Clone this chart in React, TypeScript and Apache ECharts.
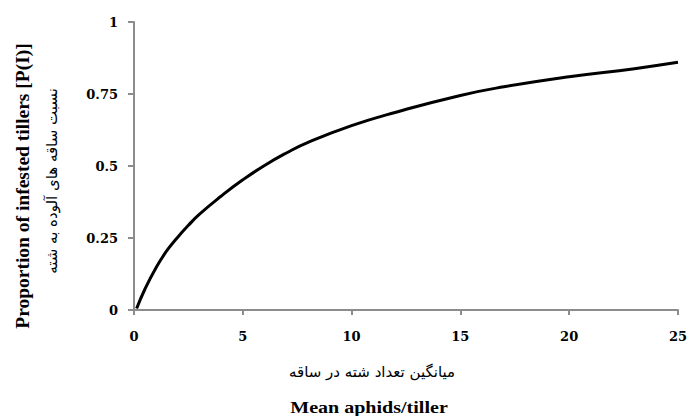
import React, { useEffect, useRef } from "react";
import * as echarts from "echarts";

const meanAphids = [0.12, 0.5, 1, 1.5, 2, 2.5, 3, 4, 5, 6, 7, 8, 10, 12, 15, 17, 20, 23, 25];
const proportionInfested = [0.005, 0.072, 0.145, 0.205, 0.252, 0.294, 0.332, 0.395, 0.452, 0.502, 0.545, 0.582, 0.64, 0.686, 0.745, 0.775, 0.81, 0.838, 0.86];
const xTicks = [0, 5, 10, 15, 20, 25];
const yTicks = [0, 0.25, 0.5, 0.75, 1];

const yTitleEn = "Proportion of infested tillers [P(I)]";
const yTitleFa = "نسبت ساقه های آلوده به شته";
const xTitleFa = "میانگین تعداد شته در ساقه";
const xTitleEn = "Mean aphids/tiller";

const serif = "'Liberation Serif', 'Times New Roman', serif";
const tickFont = "'DejaVu Serif', 'Liberation Serif', serif";
const faFont = "'DejaVu Sans', 'Liberation Serif', sans-serif";

export default function App() {
  const ref = useRef<HTMLDivElement>(null);
  useEffect(() => {
    if (!ref.current) return;
    const chart = echarts.init(ref.current, null, { renderer: "svg" });
    const axisColor = "#8c8c8c";
    chart.setOption({
      animation: false,
      backgroundColor: "#ffffff",
      grid: { left: 134, right: 10, top: 22, bottom: 106, containLabel: false },
      xAxis: {
        type: "value",
        min: 0,
        max: 25,
        interval: 5,
        axisLine: { show: true, lineStyle: { color: axisColor, width: 2 } },
        axisTick: { show: true, length: 5, lineStyle: { color: axisColor, width: 2 } },
        splitLine: { show: false },
        axisLabel: {
          margin: 20,
          color: "#000",
          fontFamily: tickFont,
          fontWeight: "bold",
          fontSize: 13,
          formatter: (v: number) => (xTicks.includes(v) ? String(v) : ""),
        },
      },
      yAxis: {
        type: "value",
        min: 0,
        max: 1,
        interval: 0.25,
        axisLine: { show: true, lineStyle: { color: axisColor, width: 2 } },
        axisTick: { show: true, length: 6, lineStyle: { color: axisColor, width: 2 } },
        splitLine: { show: false },
        axisLabel: {
          margin: 16,
          color: "#000",
          fontFamily: tickFont,
          fontWeight: "bold",
          fontSize: 13,
          formatter: (v: number) => (yTicks.includes(v) ? String(v) : ""),
        },
      },
      series: [
        {
          type: "line",
          data: meanAphids.map((x, i) => [x, proportionInfested[i]]),
          smooth: 0.5,
          showSymbol: false,
          lineStyle: { color: "#000", width: 3 },
        },
      ],
      graphic: [
        {
          type: "text",
          x: 22,
          y: 186,
          rotation: Math.PI / 2,
          style: {
            text: yTitleEn,
            fill: "#000",
            font: `bold 19.5px ${serif}`,
            align: "center",
            verticalAlign: "middle",
          },
        },
        {
          type: "text",
          x: 52,
          y: 181,
          rotation: Math.PI / 2,
          style: {
            text: yTitleFa,
            fill: "#000",
            font: `15px ${faFont}`,
            align: "center",
            verticalAlign: "middle",
          },
        },
        {
          type: "text",
          x: 372,
          y: 372,
          style: {
            text: xTitleFa,
            fill: "#000",
            font: `15px ${faFont}`,
            align: "center",
            verticalAlign: "middle",
          },
        },
        {
          type: "text",
          x: 369,
          y: 407,
          scaleX: 1.18,
          style: {
            text: xTitleEn,
            fill: "#000",
            font: `bold 17px ${serif}`,
            align: "center",
            verticalAlign: "middle",
          },
        },
      ],
    });
    return () => chart.dispose();
  }, []);
  return (
    <div
      ref={ref}
      style={{ position: "fixed", left: 0, top: 0, width: 690, height: 416, background: "#fff" }}
    />
  );
}
